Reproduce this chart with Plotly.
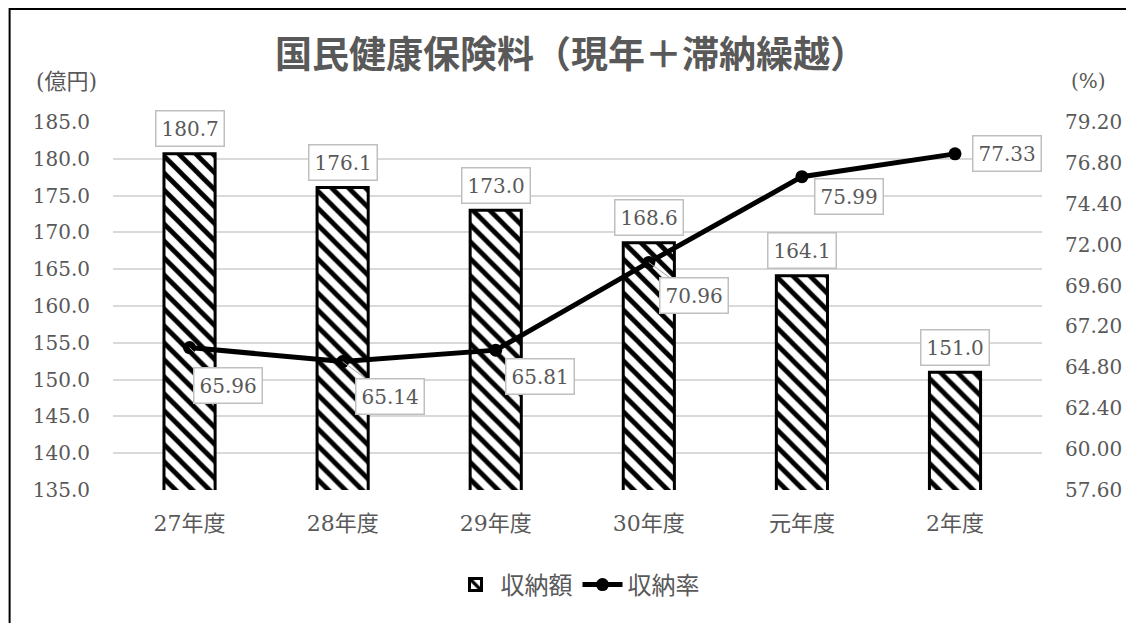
import plotly.graph_objects as go

# ---- data ----
categories = ["27年度", "28年度", "29年度", "30年度", "元年度", "2年度"]
amounts = [180.7, 176.1, 173.0, 168.6, 164.1, 151.0]      # 収納額 (億円)
rates = [65.96, 65.14, 65.81, 70.96, 75.99, 77.33]        # 収納率 (%)
left_ticks = [135.0, 140.0, 145.0, 150.0, 155.0, 160.0, 165.0, 170.0, 175.0, 180.0, 185.0]
right_ticks = [57.60, 60.00, 62.40, 64.80, 67.20, 69.60, 72.00, 74.40, 76.80, 79.20]

# ---- styles ----
GRAY_TXT = "#595959"
SERIF = "DejaVu Serif, Liberation Serif, Noto Sans CJK JP, serif"
SANS = "Noto Sans CJK JP, sans-serif"
# label offsets for rate labels (pixels): (dx, dy, show leader)
rate_label_offsets = [(38, 38, True), (47, 35, True), (44, 26, False),
                      (45, 33, True), (47, 20, False), (52, 0, False)]

fig = go.Figure()

fig.add_trace(go.Bar(
    x=categories, y=amounts, name="収納額",
    width=0.334,
    marker=dict(
        color="white",
        line=dict(color="black", width=3),
        pattern=dict(shape="\\", fgcolor="black", bgcolor="white",
                     size=12, solidity=0.4, fillmode="replace"),
    ),
    yaxis="y",
))

fig.add_trace(go.Scatter(
    x=categories, y=rates, name="収納率",
    mode="lines+markers",
    line=dict(color="black", width=5),
    marker=dict(color="black", size=13),
    yaxis="y2",
))

annotations = []
for c, v in zip(categories, amounts):
    annotations.append(dict(
        x=c, y=v, xref="x", yref="y", text=f"{v:.1f}",
        showarrow=False, yshift=25,
        font=dict(family=SERIF, size=20, color=GRAY_TXT),
        bgcolor="white", bordercolor="#bfbfbf", borderwidth=1.5, borderpad=5,
    ))
for c, v, (dx, dy, lead) in zip(categories, rates, rate_label_offsets):
    a = dict(
        x=c, y=v, xref="x", yref="y2", text=f"{v:.2f}",
        font=dict(family=SERIF, size=20, color=GRAY_TXT),
        bgcolor="white", bordercolor="#bfbfbf", borderwidth=1.5, borderpad=5,
    )
    if lead:
        a.update(showarrow=True, arrowhead=0, arrowwidth=1, arrowcolor="#a6a6a6",
                 ax=dx, ay=dy, standoff=0)
    else:
        a.update(showarrow=False, xshift=dx, yshift=-dy)
    annotations.append(a)

# axis unit labels
annotations.append(dict(xref="paper", yref="paper", x=-0.0503, y=1.111,
                        xanchor="center", yanchor="middle",
                        text="(億円)", showarrow=False,
                        font=dict(family=SERIF, size=22, color=GRAY_TXT)))
annotations.append(dict(xref="paper", yref="paper", x=1.050, y=1.111,
                        xanchor="center", yanchor="middle",
                        text="(%)", showarrow=False,
                        font=dict(family=SERIF, size=20, color=GRAY_TXT)))

fig.update_layout(
    width=1126, height=615,
    margin=dict(l=105, r=87, t=114, b=133),
    paper_bgcolor="white", plot_bgcolor="white",
    title=dict(text="<b>国民健康保険料（現年＋滞納繰越）</b>",
               x=0.5, xanchor="center", y=0.9236, yanchor="middle",
               font=dict(family=SANS, size=37, color=GRAY_TXT)),
    xaxis=dict(
        showgrid=False, showline=False, ticks="",
        tickfont=dict(family=SERIF, size=22, color=GRAY_TXT),
        ticklabelstandoff=18,
    ),
    yaxis=dict(
        range=[135, 185], tickvals=left_ticks, tickformat=".1f",
        showgrid=True, gridcolor="#d9d9d9", gridwidth=1.5,
        zeroline=False, showline=False, ticks="",
        tickfont=dict(family=SERIF, size=20, color=GRAY_TXT),
        ticklabelstandoff=22,
    ),
    yaxis2=dict(
        range=[57.6, 79.2], tickvals=right_ticks, tickformat=".2f",
        overlaying="y", side="right",
        showgrid=False, zeroline=False, showline=False, ticks="",
        tickfont=dict(family=SERIF, size=20, color=GRAY_TXT),
        ticklabelstandoff=22,
    ),
    legend=dict(orientation="h", x=0.5, xanchor="center", y=-0.258, yanchor="middle",
                font=dict(family=SANS, size=24, color=GRAY_TXT),
                itemwidth=40, tracegroupgap=0),
    annotations=annotations,
    showlegend=True,
)

# outer frame (only top and left edges fall inside the picture)
fig.add_shape(type="rect", xref="paper", yref="paper",
              x0=-0.1113, x1=1.3, y0=-0.6, y1=1.307,
              line=dict(color="black", width=2), fillcolor="rgba(0,0,0,0)", layer="below")

fig.write_html("out.html")
